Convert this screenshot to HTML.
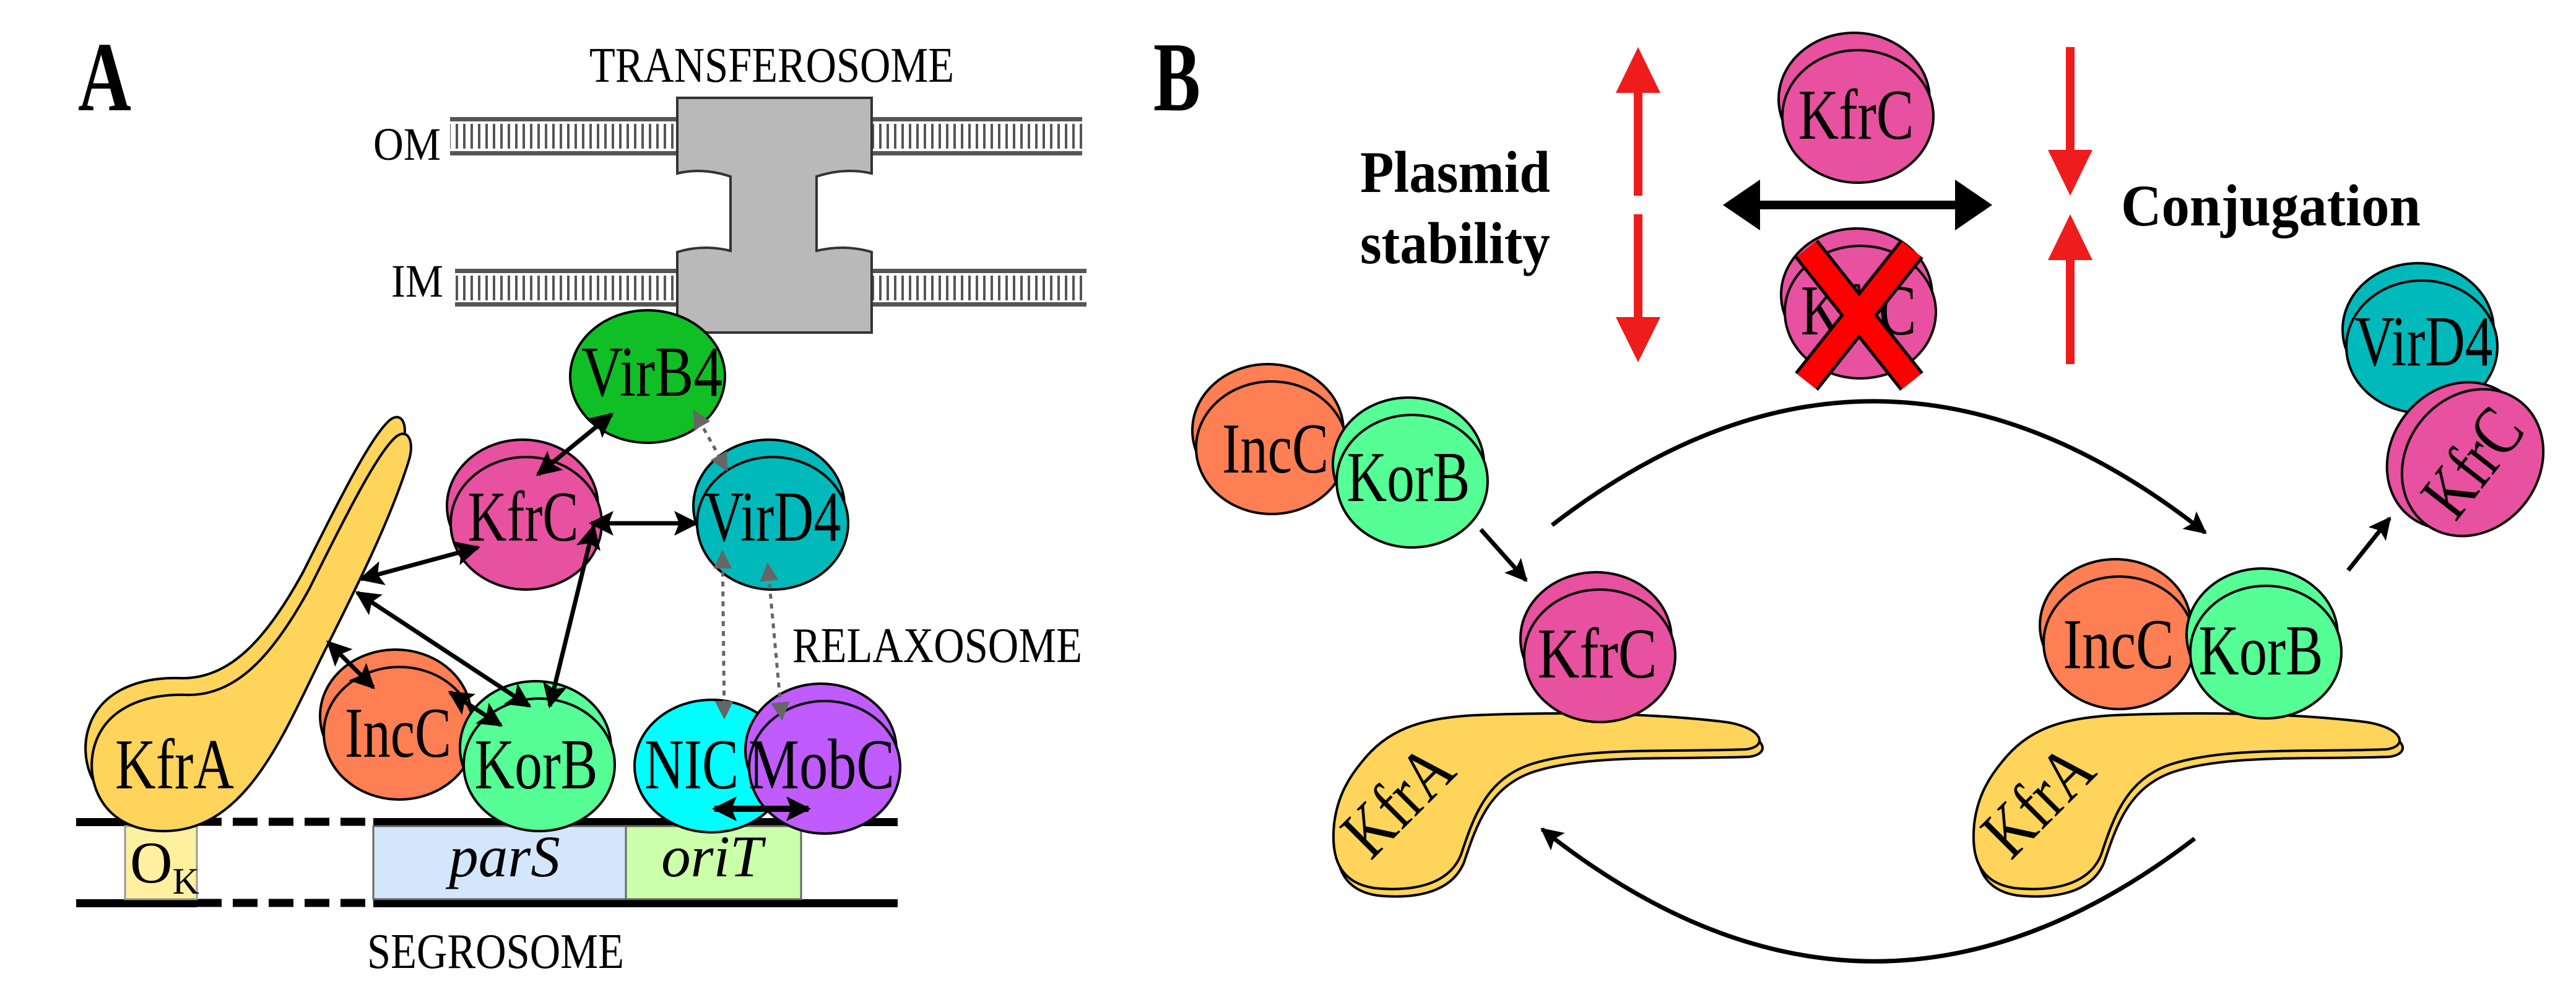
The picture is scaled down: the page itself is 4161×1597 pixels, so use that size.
<!DOCTYPE html>
<html><head><meta charset="utf-8"><style>
html,body{margin:0;padding:0;background:#fff}
svg{display:block}
text{font-family:"Liberation Serif",serif}
</style></head><body>
<svg width="4161" height="1597" viewBox="0 0 4161 1597" xmlns="http://www.w3.org/2000/svg">
<defs>
<pattern id="hatch" width="12" height="40" patternUnits="userSpaceOnUse"><rect x="4" y="0" width="4" height="40" fill="#555"/></pattern>
<marker id="ah" markerUnits="userSpaceOnUse" markerWidth="40" markerHeight="40" viewBox="0 0 10 10" refX="9" refY="5" orient="auto-start-reverse"><path d="M0,0 L10,5 L0,10 L2,5 Z" fill="#000"/></marker>
<marker id="gh" markerUnits="userSpaceOnUse" markerWidth="30" markerHeight="30" viewBox="0 0 10 10" refX="9" refY="5" orient="auto-start-reverse"><path d="M0,0 L10,5 L0,10 Z" fill="#666"/></marker>
<marker id="sh" markerUnits="userSpaceOnUse" markerWidth="36" markerHeight="36" viewBox="0 0 10 10" refX="9" refY="5" orient="auto"><path d="M0,0 L10,5 L0,10 L2,5 Z" fill="#000"/></marker>
</defs>

<!-- ===== PANEL A ===== -->
<text x="126" y="178" font-size="160" font-weight="bold" textLength="86" lengthAdjust="spacingAndGlyphs">A</text>
<text x="952" y="132" font-size="80" textLength="589" lengthAdjust="spacingAndGlyphs">TRANSFEROSOME</text>

<!-- membranes -->
<rect x="727" y="200" width="1021" height="40" fill="url(#hatch)"/>
<rect x="727" y="189" width="1021" height="7" fill="#555"/>
<rect x="727" y="244" width="1021" height="7" fill="#555"/>
<rect x="735" y="445" width="1020" height="40" fill="url(#hatch)"/>
<rect x="735" y="434" width="1020" height="7" fill="#555"/>
<rect x="735" y="488" width="1020" height="7" fill="#555"/>
<text x="603" y="258" font-size="75" textLength="109" lengthAdjust="spacingAndGlyphs">OM</text>
<text x="632" y="479" font-size="75" textLength="84" lengthAdjust="spacingAndGlyphs">IM</text>

<!-- transferosome -->
<path d="M1094 158 H1408 V280 Q1365 270 1319 285 V405 Q1365 394 1408 407 V537 H1094 V407 Q1135 394 1180 405 V285 Q1135 270 1094 280 Z" fill="#b9b9b9" stroke="#333" stroke-width="4"/>

<!-- DNA -->
<rect x="123" y="1321" width="195" height="13" fill="#000"/>
<rect x="123" y="1452" width="195" height="13" fill="#000"/>
<line x1="318" y1="1327" x2="597" y2="1327" stroke="#000" stroke-width="13" stroke-dasharray="40,18"/>
<line x1="318" y1="1458" x2="597" y2="1458" stroke="#000" stroke-width="13" stroke-dasharray="40,18"/>
<rect x="603" y="1321" width="847" height="13" fill="#000"/>
<rect x="603" y="1452" width="847" height="13" fill="#000"/>
<rect x="202" y="1334" width="116" height="118" fill="#fff0a0" stroke="#999" stroke-width="3"/>
<rect x="603" y="1334" width="408" height="118" fill="#d4e6fb" stroke="#666" stroke-width="3"/>
<rect x="1011" y="1334" width="283" height="118" fill="#ccffaa" stroke="#666" stroke-width="3"/>
<text x="210" y="1425" font-size="95">O<tspan font-size="60" dy="18">K</tspan></text>
<text x="815" y="1415" font-size="95" font-style="italic" text-anchor="middle">parS</text>
<text x="1150" y="1415" font-size="95" font-style="italic" text-anchor="middle">oriT</text>
<text x="593" y="1563" font-size="80" textLength="415" lengthAdjust="spacingAndGlyphs">SEGROSOME</text>
<text x="1280" y="1069" font-size="80" textLength="468" lengthAdjust="spacingAndGlyphs">RELAXOSOME</text>

<!-- KfrA A -->
<g stroke="#000" stroke-width="4" fill="#ffd45a">
<path transform="translate(-10,-27)" d="M265 1342 C170 1342 140 1270 150 1215 C165 1140 240 1120 300 1122 C380 1125 440 1060 500 950 C560 830 610 730 640 705 C660 690 670 715 660 745 C630 840 580 940 525 1050 C460 1180 400 1342 265 1342 Z"/>
<path d="M265 1342 C170 1342 140 1270 150 1215 C165 1140 240 1120 300 1122 C380 1125 440 1060 500 950 C560 830 610 730 640 705 C660 690 670 715 660 745 C630 840 580 940 525 1050 C460 1180 400 1342 265 1342 Z"/>
</g>
<text x="282" y="1273" font-size="115" text-anchor="middle" textLength="192" lengthAdjust="spacingAndGlyphs">KfrA</text>

<!-- proteins A -->
<g stroke="#000" stroke-width="4">
<ellipse cx="1046" cy="608" rx="125" ry="107" fill="#0fbf25"/>
<ellipse cx="844" cy="817" rx="122" ry="107" fill="#e8519f"/><ellipse cx="850" cy="845" rx="122" ry="107" fill="#e8519f"/>
<ellipse cx="1242" cy="817" rx="122" ry="107" fill="#00b9bb"/><ellipse cx="1248" cy="845" rx="122" ry="107" fill="#00b9bb"/>
<ellipse cx="639" cy="1156" rx="122" ry="107" fill="#fe7f53"/><ellipse cx="645" cy="1184" rx="122" ry="107" fill="#fe7f53"/>
<ellipse cx="865" cy="1207" rx="122" ry="107" fill="#55ff96"/><ellipse cx="871" cy="1235" rx="122" ry="107" fill="#55ff96"/>
<ellipse cx="1149" cy="1237" rx="124" ry="107" fill="#00ffff"/>
<ellipse cx="1326" cy="1211" rx="122" ry="107" fill="#c05bff"/><ellipse cx="1332" cy="1239" rx="122" ry="107" fill="#c05bff"/>
</g>
<g font-size="115" text-anchor="middle">
<text x="1053" y="639" textLength="228" lengthAdjust="spacingAndGlyphs">VirB4</text>
<text x="845" y="873" textLength="179" lengthAdjust="spacingAndGlyphs">KfrC</text>
<text x="1248" y="873" textLength="221" lengthAdjust="spacingAndGlyphs">VirD4</text>
<text x="643" y="1222" textLength="172" lengthAdjust="spacingAndGlyphs">IncC</text>
<text x="866" y="1273" textLength="199" lengthAdjust="spacingAndGlyphs">KorB</text>
<text x="1117" y="1273" textLength="152" lengthAdjust="spacingAndGlyphs">NIC</text>
<text x="1327" y="1273" textLength="236" lengthAdjust="spacingAndGlyphs">MobC</text>
</g>

<!-- arrows A -->
<g stroke="#000" stroke-width="7" fill="none" marker-start="url(#ah)" marker-end="url(#ah)">
<line x1="988" y1="669" x2="869" y2="766"/>
<line x1="772" y1="884" x2="583" y2="935"/>
<line x1="955" y1="845" x2="1125" y2="845"/>
<line x1="959" y1="850" x2="888" y2="1140"/>
<line x1="577" y1="957" x2="855" y2="1140"/>
<line x1="530" y1="1037" x2="603" y2="1110"/>
<line x1="727" y1="1118" x2="809" y2="1171"/>
<line x1="1154" y1="1306" x2="1306" y2="1306" stroke-width="10"/>
</g>
<g stroke="#666" stroke-width="5" stroke-dasharray="8,8" fill="none" marker-start="url(#gh)" marker-end="url(#gh)">
<line x1="1121" y1="664" x2="1174" y2="759"/>
<line x1="1167" y1="891" x2="1170" y2="1159"/>
<line x1="1240" y1="911" x2="1263" y2="1161"/>
</g>

<!-- ===== PANEL B ===== -->
<text x="1863" y="178" font-size="160" font-weight="bold" textLength="76" lengthAdjust="spacingAndGlyphs">B</text>
<text x="2197" y="310" font-size="95" font-weight="bold" textLength="307" lengthAdjust="spacingAndGlyphs">Plasmid</text>
<text x="2197" y="425" font-size="95" font-weight="bold" textLength="307" lengthAdjust="spacingAndGlyphs">stability</text>
<text x="3426" y="364" font-size="95" font-weight="bold" textLength="484" lengthAdjust="spacingAndGlyphs">Conjugation</text>

<!-- red arrows -->
<g fill="#ee1c1c">
<rect x="2639" y="140" width="14" height="176"/><polygon points="2646,76 2610,150 2682,150"/>
<rect x="2639" y="346" width="14" height="176"/><polygon points="2646,585 2610,512 2682,512"/>
<rect x="3337" y="76" width="14" height="176"/><polygon points="3344,316 3308,242 3380,242"/>
<rect x="3337" y="410" width="14" height="178"/><polygon points="3344,346 3308,420 3380,420"/>
</g>
<!-- black double arrow -->
<rect x="2835" y="324" width="330" height="14" fill="#000"/>
<polygon points="2783,331 2843,290 2843,372" fill="#000"/>
<polygon points="3218,331 3158,290 3158,372" fill="#000"/>

<!-- proteins B -->
<g stroke="#000" stroke-width="4">
<ellipse cx="2995" cy="160" rx="122" ry="107" fill="#e8519f"/><ellipse cx="3001" cy="188" rx="122" ry="107" fill="#e8519f"/>
<ellipse cx="2999" cy="476" rx="122" ry="107" fill="#e8519f"/><ellipse cx="3005" cy="504" rx="122" ry="107" fill="#e8519f"/>
<ellipse cx="2048" cy="695" rx="122" ry="107" fill="#fe7f53"/><ellipse cx="2054" cy="723" rx="122" ry="107" fill="#fe7f53"/>
<ellipse cx="2275" cy="749" rx="122" ry="107" fill="#55ff96"/><ellipse cx="2281" cy="777" rx="122" ry="107" fill="#55ff96"/>
<ellipse cx="3906" cy="532" rx="122" ry="107" fill="#00b9bb"/><ellipse cx="3912" cy="560" rx="122" ry="107" fill="#00b9bb"/>
</g>
<g font-size="115" text-anchor="middle">
<text x="2998" y="224" textLength="187" lengthAdjust="spacingAndGlyphs">KfrC</text>
<text x="3002" y="540" textLength="187" lengthAdjust="spacingAndGlyphs">KfrC</text>
<text x="2060" y="763" textLength="172" lengthAdjust="spacingAndGlyphs">IncC</text>
<text x="2275" y="809" textLength="199" lengthAdjust="spacingAndGlyphs">KorB</text>
<text x="3915" y="590" textLength="223" lengthAdjust="spacingAndGlyphs">VirD4</text>
</g>
<!-- red X -->
<g stroke-linecap="butt">
<line x1="2918" y1="402" x2="3088" y2="616" stroke="#000" stroke-width="48"/>
<line x1="3088" y1="402" x2="2918" y2="616" stroke="#000" stroke-width="48"/>
<line x1="2918" y1="402" x2="3088" y2="616" stroke="#ff0000" stroke-width="38"/>
<line x1="3088" y1="402" x2="2918" y2="616" stroke="#ff0000" stroke-width="38"/>
</g>

<!-- tilted KfrC -->
<g transform="translate(3994,747) rotate(-52)" stroke="#000" stroke-width="4">
<ellipse cx="-6" cy="-26" rx="125" ry="107" fill="#e8519f"/><ellipse cx="0" cy="0" rx="125" ry="107" fill="#e8519f"/>
<text x="0" y="38" font-size="115" text-anchor="middle" stroke="none" fill="#000" textLength="187" lengthAdjust="spacingAndGlyphs">KfrC</text>
</g>

<!-- KfrA B shapes -->
<g stroke="#000" stroke-width="4" fill="#ffd45a">
<path transform="translate(5,12)" d="M2200 1230 C2240 1180 2290 1160 2380 1155 C2500 1150 2650 1150 2780 1165 C2845 1172 2860 1205 2820 1210 C2700 1215 2560 1205 2470 1235 C2400 1260 2380 1320 2360 1380 C2340 1430 2280 1440 2220 1434 C2160 1425 2150 1380 2155 1330 C2160 1290 2175 1260 2200 1230 Z"/>
<path d="M2200 1230 C2240 1180 2290 1160 2380 1155 C2500 1150 2650 1150 2780 1165 C2845 1172 2860 1205 2820 1210 C2700 1215 2560 1205 2470 1235 C2400 1260 2380 1320 2360 1380 C2340 1430 2280 1440 2220 1434 C2160 1425 2150 1380 2155 1330 C2160 1290 2175 1260 2200 1230 Z"/>
<path transform="translate(1039,12)" d="M2200 1230 C2240 1180 2290 1160 2380 1155 C2500 1150 2650 1150 2780 1165 C2845 1172 2860 1205 2820 1210 C2700 1215 2560 1205 2470 1235 C2400 1260 2380 1320 2360 1380 C2340 1430 2280 1440 2220 1434 C2160 1425 2150 1380 2155 1330 C2160 1290 2175 1260 2200 1230 Z"/>
<path transform="translate(1034,0)" d="M2200 1230 C2240 1180 2290 1160 2380 1155 C2500 1150 2650 1150 2780 1165 C2845 1172 2860 1205 2820 1210 C2700 1215 2560 1205 2470 1235 C2400 1260 2380 1320 2360 1380 C2340 1430 2280 1440 2220 1434 C2160 1425 2150 1380 2155 1330 C2160 1290 2175 1260 2200 1230 Z"/>
</g>
<text transform="translate(2285,1320) rotate(-45)" font-size="115" text-anchor="middle" textLength="200" lengthAdjust="spacingAndGlyphs">KfrA</text>
<text transform="translate(3319,1320) rotate(-45)" font-size="115" text-anchor="middle" textLength="200" lengthAdjust="spacingAndGlyphs">KfrA</text>

<g stroke="#000" stroke-width="4">
<ellipse cx="2578" cy="1031" rx="122" ry="107" fill="#e8519f"/><ellipse cx="2584" cy="1059" rx="122" ry="107" fill="#e8519f"/>
<ellipse cx="3417" cy="1010" rx="122" ry="107" fill="#fe7f53"/><ellipse cx="3423" cy="1038" rx="122" ry="107" fill="#fe7f53"/>
<ellipse cx="3654" cy="1025" rx="122" ry="107" fill="#55ff96"/><ellipse cx="3660" cy="1053" rx="122" ry="107" fill="#55ff96"/>
</g>
<g font-size="115" text-anchor="middle">
<text x="2580" y="1094" textLength="193" lengthAdjust="spacingAndGlyphs">KfrC</text>
<text x="3422" y="1079" textLength="179" lengthAdjust="spacingAndGlyphs">IncC</text>
<text x="3652" y="1089" textLength="201" lengthAdjust="spacingAndGlyphs">KorB</text>
</g>

<!-- connectors B -->
<g stroke="#000" stroke-width="7" fill="none" marker-end="url(#sh)">
<path d="M2507 848 Q3034 442 3562 860"/>
<path d="M3545 1354 Q3018 1758 2491 1339"/>
<line x1="2392" y1="855" x2="2465" y2="937"/>
<line x1="3793" y1="921" x2="3860" y2="837"/>
</g>
</svg>
</body></html>
